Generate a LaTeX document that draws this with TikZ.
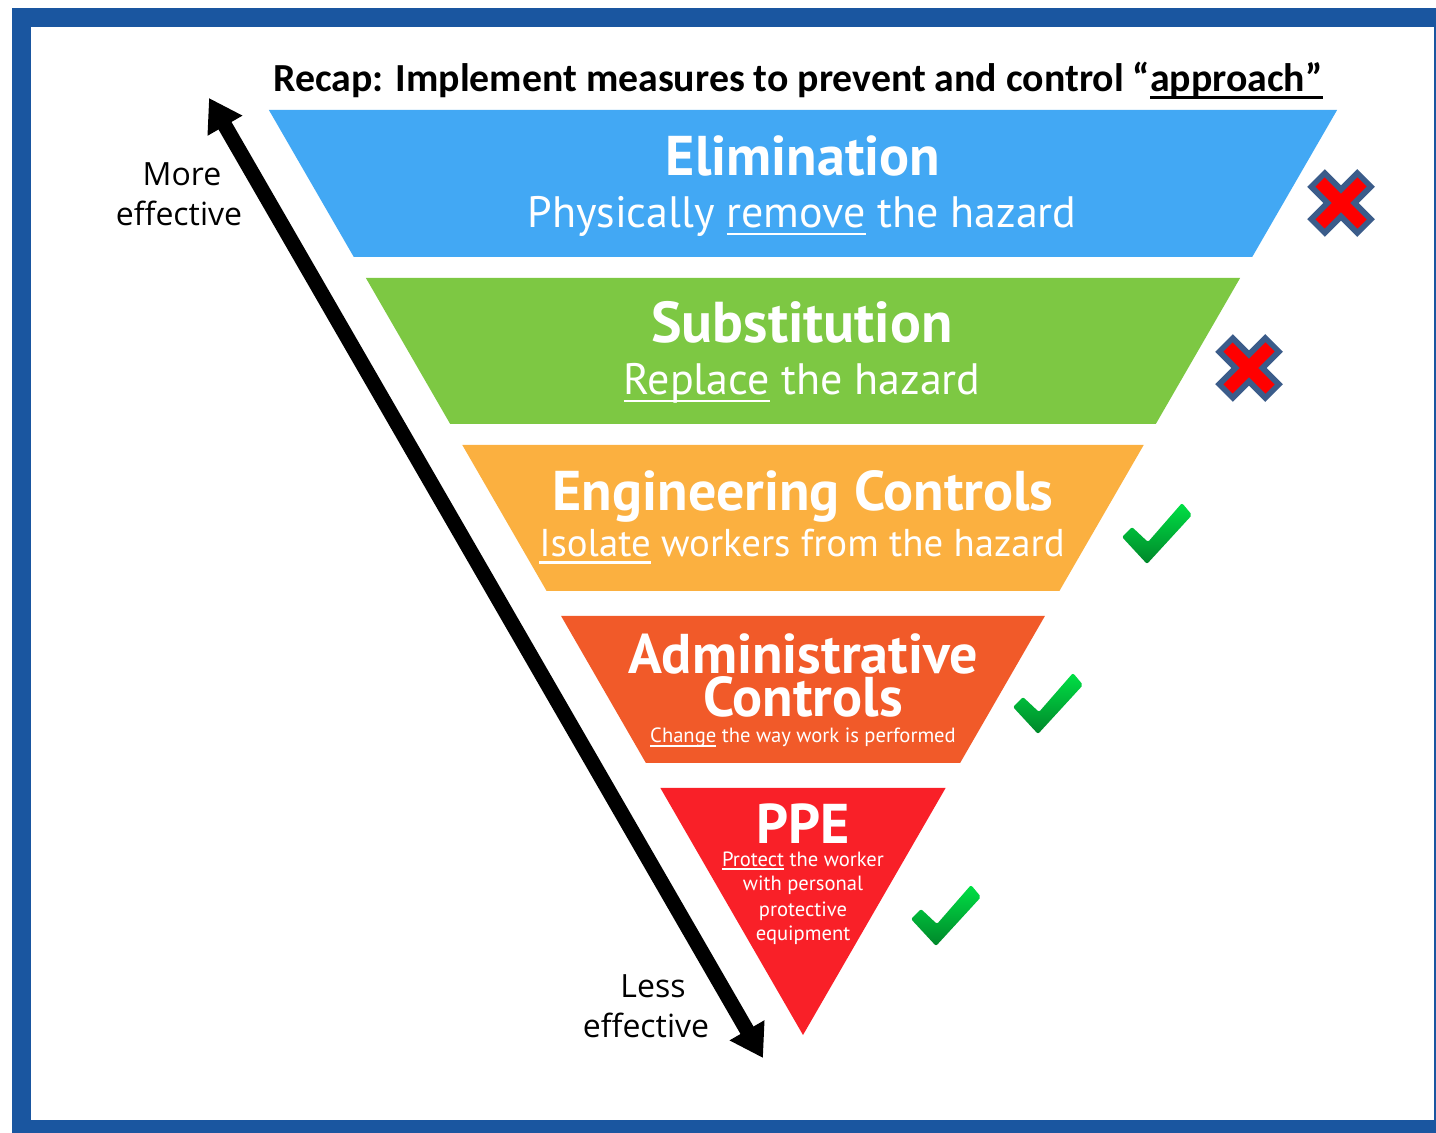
\documentclass[tikz,border=0pt]{standalone}
\usepackage{fontspec}
\setmainfont{PT Sans}
\newfontfamily\titlefont{Carlito}
\newfontfamily\sidefont{Open Sans}
\usetikzlibrary{arrows.meta}

\definecolor{framebl}{HTML}{1A56A0}
\definecolor{elimcol}{HTML}{42A8F4}
\definecolor{subscol}{HTML}{7DC843}
\definecolor{engcol}{HTML}{FBB040}
\definecolor{admcol}{HTML}{F15A29}
\definecolor{ppecol}{HTML}{F92028}
\definecolor{xline}{HTML}{3B5C8A}
\definecolor{xfill}{HTML}{FF0000}
\definecolor{chkhi}{HTML}{00E045}
\definecolor{chklo}{HTML}{00862A}

\newsavebox\undlbox
\newcommand{\undl}[1]{\sbox\undlbox{#1}\rlap{\rule[-0.17em]{\wd\undlbox}{0.06em}}\usebox\undlbox}

\tikzset{
  head/.style={text=white, font=\bfseries\fontsize{28}{30}\selectfont, inner sep=0pt, anchor=base, text height=0.68em, text depth=0pt},
  subline/.style={text=white, font=\fontsize{22}{26}\selectfont, inner sep=0pt, anchor=base, text height=0.7em},
  small/.style={text=white, font=\fontsize{10.3}{12}\selectfont, inner sep=0pt, anchor=base, text height=0.7em},
  side/.style={font=\sidefont\fontsize{16}{20}\selectfont, inner sep=0pt, anchor=base},
  cross/.pic={
    \draw[xline, line width=12.5pt] (-25,-25) -- (25,25) (-25,25) -- (25,-25);
    \draw[xfill, line width=6.5pt] (-21,-21) -- (21,21) (-21,21) -- (21,-21);
  },
  tick/.pic={
    \shade[top color=chkhi, bottom color=chklo, rounded corners=1pt]
      (-34,4) -- (-24,-6) -- (-8,9) -- (26,-30) -- (36,-18) -- (-9,31) -- cycle;
  }
}

\begin{document}
\begin{tikzpicture}[x=0.5pt, y=-0.5pt]
  \useasboundingbox (0,0) rectangle (1436,1133);
  \fill[white] (0,0) rectangle (1436,1133);
  % frame
  \fill[framebl] (12,8) rectangle (1436,1133);
  \fill[white] (31,27) rectangle (1434,1120);

  % levels of the inverted pyramid
  \fill[elimcol] (268.9,110) -- (1337.1,110) -- (1252.2,257) -- (353.8,257) -- cycle;
  \fill[subscol] (365.9,278) -- (1240.1,278) -- (1155.8,424) -- (450.2,424) -- cycle;
  \fill[engcol] (462.3,445) -- (1143.7,445) -- (1059.4,591) -- (546.6,591) -- cycle;
  \fill[admcol] (561.1,616) -- (1044.9,616) -- (960.1,763) -- (645.9,763) -- cycle;
  \fill[ppecol] (660.4,788) -- (945.6,788) -- (803,1035) -- cycle;

  \node[anchor=base, inner sep=0pt, font=\titlefont\bfseries\fontsize{19.9}{23}\selectfont] (title) at (798,92)
    {Recap: Implement measures to prevent and control “\undl{approach”}};

  \node[head] (elim) at (803,176) {Elimination};
  \node[subline] (elimtxt) at (802,228) {Physically \undl{remove} the hazard};
  \node[head, font=\bfseries\fontsize{28.8}{30}\selectfont] (subs) at (802,343) {Substitution};
  \node[subline] (substxt) at (802,395) {\undl{Replace} the hazard};
  \node[head] (eng) at (803,511) {Engineering Controls};
  \node[subline, font=\fontsize{19.4}{23}\selectfont] (engtxt) at (802,557) {\undl{Isolate} workers from the hazard};
  \node[head] (adm) at (803,674) {Administrative};
  \node[head] (adm2) at (803,717) {Controls};
  \node[small] (admtxt) at (803,743) {\undl{Change} the way work is performed};
  \node[head] (ppe) at (803,843) {PPE};
  \node[small] (ppe1) at (803,866) {\undl{Protect} the worker};
  \node[small] (ppe2) at (803,891) {with personal};
  \node[small] (ppe3) at (803,916) {protective};
  \node[small] (ppe4) at (803,940) {equipment};

  % effectiveness arrow
  \coordinate (top) at (209,98);
  \coordinate (bot) at (763,1058);
  \draw[line width=7.5pt, {Triangle[length=16pt,width=19pt]}-{Triangle[length=16pt,width=19pt]}] (top) -- (bot);
  \node[side] (more) at (182,186) {More};
  \node[side] (more2) at (179,226) {effective};
  \node[side] (less) at (653,997) {Less};
  \node[side] (less2) at (646,1037) {effective};

  % marks
  \pic at (1341,203) {cross};
  \pic at (1249,368) {cross};
  \pic at (1156,533) {tick};
  \pic at (1047,703) {tick};
  \pic at (945,915) {tick};
\end{tikzpicture}
\end{document}
